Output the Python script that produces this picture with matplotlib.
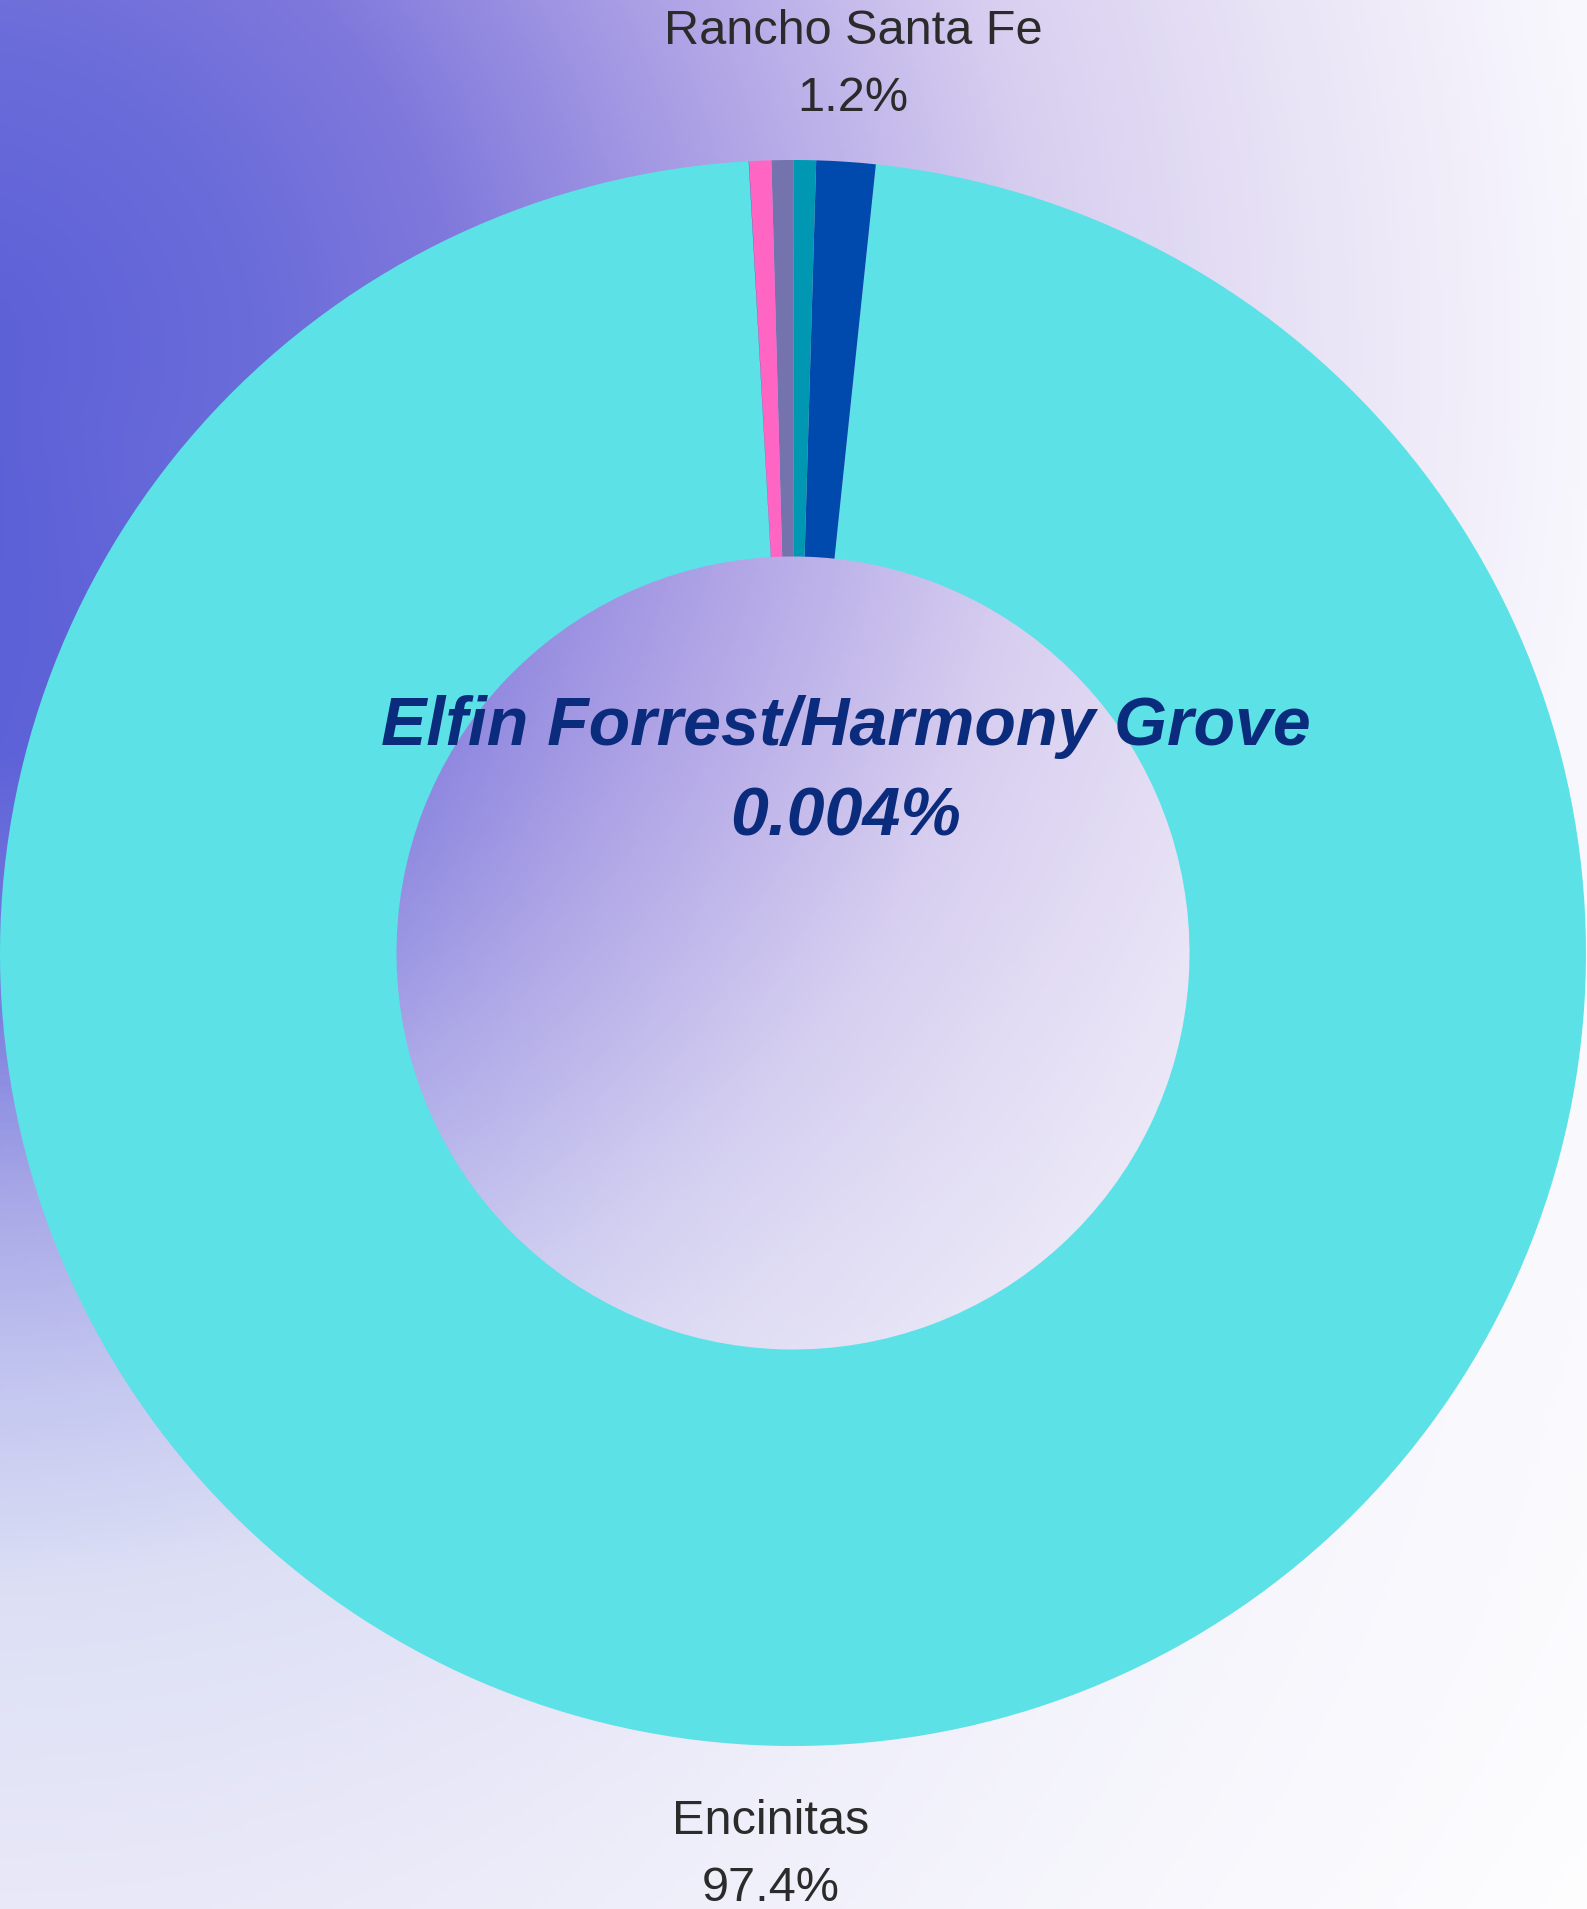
import numpy as np
import matplotlib
matplotlib.use("Agg")
import matplotlib.pyplot as plt
from matplotlib.colors import LinearSegmentedColormap

# ---------------------------------------------------------------------------
# Data
# ---------------------------------------------------------------------------
communities = ["Encinitas", "Rancho Santa Fe", "Other A", "Other B", "Other C",
               "Elfin Forrest/Harmony Grove"]
shares = [97.4, 1.2, 0.45, 0.45, 0.45, 0.004]
share_labels = ["97.4%", "1.2%", "", "", "", "0.004%"]
show_label = [True, True, False, False, False, False]
colors = ["#5ce1e6", "#004aad", "#0097b2", "#7573ae", "#ff66c4", "#0b2b7d"]

W, H = 1587, 1909
plt.rcParams["font.family"] = ["Liberation Sans", "DejaVu Sans"]

fig = plt.figure(figsize=(W / 100, H / 100), dpi=100)
ax = fig.add_axes([0, 0, 1, 1])
ax.set_xlim(0, W)
ax.set_ylim(0, H)
ax.set_aspect("equal")
ax.axis("off")

# ---------------------------------------------------------------------------
# Background: radial gradient from the upper-left, purple to the right,
# bluish lavender downwards
# ---------------------------------------------------------------------------
purple = LinearSegmentedColormap.from_list("purple", [
    (0.0, "#5b5fd6"), (300 / 2300, "#6a6cda"), (500 / 2300, "#7f78dc"),
    (800 / 2300, "#b0a4e6"), (1100 / 2300, "#d8cff0"), (1400 / 2300, "#ebe6f7"),
    (1650 / 2300, "#f8f7fd"), (1.0, "#ffffff")])
blue = LinearSegmentedColormap.from_list("blue", [
    (0.0, "#5b5fd6"), (400 / 2300, "#5e62d8"), (650 / 2300, "#7b7ddd"),
    (850 / 2300, "#a8a8e8"), (1050 / 2300, "#c5c8f0"), (1250 / 2300, "#dde0f5"),
    (1550 / 2300, "#e8e8f8"), (1.0, "#fcfcff")])

gx, gy = np.meshgrid(np.linspace(0, W, 400), np.linspace(0, H, 480))
dx, dy = gx + 50, gy - 350
dist = np.clip(np.hypot(dx, dy) / 2300, 0, 1)
theta = np.degrees(np.arctan2(dy, dx))
wb = np.clip((theta - 20) / 65, 0, 1)[..., None]
wb = wb * wb * (3 - 2 * wb)
bg = purple(dist)[..., :3] * (1 - wb) + blue(dist)[..., :3] * wb
ax.imshow(bg, extent=[0, W, 0, H], origin="upper", interpolation="bilinear",
          zorder=0, aspect="auto")

# ---------------------------------------------------------------------------
# Donut
# ---------------------------------------------------------------------------
cx, cy, R = 793, H - 953, 793
start = 93.2
wedges, _ = ax.pie(shares, colors=colors, startangle=start, counterclock=True,
                   center=(cx, cy), radius=R,
                   wedgeprops=dict(width=R * 0.5, linewidth=0))
for w in wedges:
    w.set_zorder(2)
ax.set_xlim(0, W)
ax.set_ylim(0, H)

for w, name, pct, show in zip(wedges, communities, share_labels, show_label):
    if not show:
        continue
    mid = np.radians((w.theta1 + w.theta2) / 2)
    lx = cx + 1.13 * R * np.cos(mid)
    ly = cy + 1.13 * R * np.sin(mid) - 6
    ax.text(lx, ly, f"{name}\n{pct}", ha="center", va="center",
            fontsize=35, color="#2b2b2b", linespacing=1.63, zorder=3)

# centre annotation
ax.text(846, H - 772, f"{communities[-1]}\n{share_labels[-1]}", ha="center",
        va="center", fontsize=49, fontweight="bold", fontstyle="italic",
        color=colors[-1], linespacing=1.53, zorder=3)

fig.savefig("out.png", dpi=100)
